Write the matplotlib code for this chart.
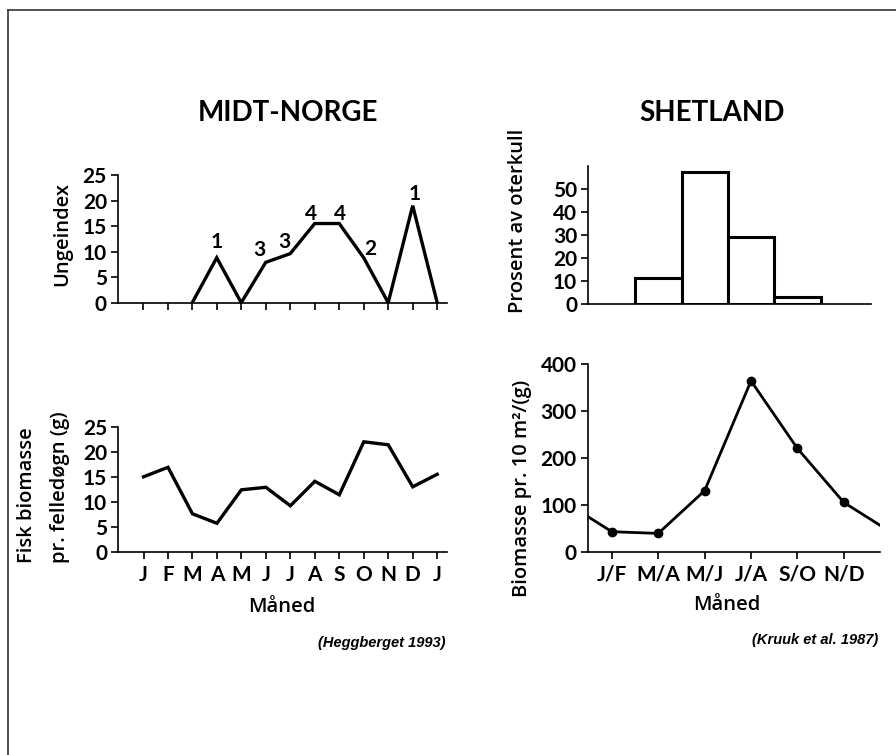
import matplotlib
matplotlib.use("Agg")
import matplotlib.pyplot as plt
from matplotlib.lines import Line2D

# ---- data ----
months = ['J', 'F', 'M', 'A', 'M', 'J', 'J', 'A', 'S', 'O', 'N', 'D', 'J']

# Ungeindex, starts in March (index 2)
unge_start = 2
unge_vals = [0, 8.8, 0, 7.9, 9.6, 15.5, 15.5, 8.8, 0, 19, 0]
unge_labels = {3: '1', 5: '3', 6: '3', 7: '4', 8: '4', 9: '2', 11: '1'}

fisk_vals = [15.1, 17.0, 7.7, 5.8, 12.5, 13.0, 9.3, 14.2, 11.5, 22.1, 21.5, 13.1, 15.6]

periods = ['J/F', 'M/A', 'M/J', 'J/A', 'S/O', 'N/D']
oterkull_pos = [1, 2, 3, 4]
oterkull_pct = [11.6, 57.5, 29.3, 3.0]

biomasse = [42.6, 39, 130, 364, 220, 105]

W, H = 896, 755
fig = plt.figure(figsize=(W / 100, H / 100), dpi=100)
plt.rcParams['font.family'] = ['Lato', 'DejaVu Sans']

def px_axes(l, r, b, t):
    return fig.add_axes([l / W, 1 - b / H, (r - l) / W, (b - t) / H])

def style(ax):
    for s in ['top', 'right']:
        ax.spines[s].set_visible(False)
    for s in ['left', 'bottom']:
        ax.spines[s].set_linewidth(1.2)
    ax.tick_params(axis='both', width=1.2, length=5, pad=3)

tick_font = dict(fontsize=15, fontweight='bold')

# ---- MIDT-NORGE top: Ungeindex ----
ax1 = px_axes(118, 447, 302.7, 175)
x_unge = list(range(unge_start, unge_start + len(unge_vals)))
ax1.plot(x_unge, unge_vals, color='black', lw=2.4, solid_joinstyle='miter')
ax1.set_xlim(-1.03, 12.4)
ax1.set_ylim(0, 25)
ax1.set_xticks(range(len(months)))
ax1.set_xticklabels([])
ax1.set_yticks([0, 5, 10, 15, 20, 25])
ax1.set_yticklabels(['0', '5', '10', '15', '20', '25'], **tick_font)
offsets = {3: (0, 16), 5: (-6, 12), 6: (-6, 12), 7: (-4, 10), 8: (1, 10),
           9: (7, 9), 11: (2, 12)}
for i, txt in unge_labels.items():
    ax1.annotate(txt, (i, unge_vals[i - unge_start]), xytext=offsets[i],
                 textcoords='offset pixels', ha='center', va='center', **tick_font)
style(ax1)

# ---- MIDT-NORGE bottom: fisk biomasse ----
ax2 = px_axes(118.3, 447, 552.3, 427.3)
ax2.plot(range(len(fisk_vals)), fisk_vals, color='black', lw=2.4, solid_joinstyle='miter')
ax2.set_xlim(-1.03, 12.4)
ax2.set_ylim(0, 25)
ax2.set_xticks(range(len(months)))
ax2.set_xticklabels(months, **tick_font)
ax2.set_yticks([0, 5, 10, 15, 20, 25])
ax2.set_yticklabels(['0', '5', '10', '15', '20', '25'], **tick_font)
style(ax2)
ax2.tick_params(axis='x', pad=4)

# ---- SHETLAND top: oterkull ----
ax3 = px_axes(588.3, 871, 304.3, 166)
ax3.bar(oterkull_pos, oterkull_pct, width=1.0, color='white', edgecolor='black', lw=2.2)
ax3.set_xlim(-0.52, 5.59)
ax3.set_ylim(0, 60)
ax3.set_xticks([])
ax3.set_yticks([0, 10, 20, 30, 40, 50])
ax3.set_yticklabels(['0', '10', '20', '30', '40', '50'], **tick_font)
style(ax3)

# ---- SHETLAND bottom: biomasse (cycle wraps round the year) ----
ax4 = px_axes(587.7, 880, 551.7, 364)
xs = list(range(len(biomasse)))
wrap_x = [-1] + xs + [len(biomasse)]
wrap_y = [biomasse[-1]] + biomasse + [biomasse[0]]
ax4.plot(wrap_x, wrap_y, color='black', lw=2.0)
ax4.plot(xs, biomasse, 'o', color='black', ms=6)
ax4.set_xlim(-0.52, 5.78)
ax4.set_ylim(0, 400)
ax4.set_xticks(xs)
ax4.set_xticklabels(periods, **tick_font)
ax4.set_yticks([0, 100, 200, 300, 400])
ax4.set_yticklabels(['0', '100', '200', '300', '400'], **tick_font)
style(ax4)
ax4.tick_params(axis='x', pad=4)

# ---- texts ----
def ftext(x, y, s, **kw):
    fig.text(x / W, 1 - y / H, s, **kw)

ftext(288, 121, 'MIDT-NORGE', ha='center', va='baseline', fontsize=20, fontweight='bold')
ftext(712, 121, 'SHETLAND', ha='center', va='baseline', fontsize=20, fontweight='bold')

lab = dict(fontsize=14.5, fontweight=600, rotation=90, family=['Open Sans', 'DejaVu Sans'])
ftext(62, 234, 'Ungeindex', ha='center', va='center', **lab)
ftext(27, 563, 'Fisk biomasse', ha='center', va='bottom', **lab)
ftext(60, 563, 'pr. felledøgn (g)', ha='center', va='bottom', **lab)
ftext(518, 313, 'Prosent av oterkull', ha='center', va='bottom', **lab)
ftext(522, 597, 'Biomasse pr. 10 m²/(g)', ha='center', va='bottom', **lab)

mlab = dict(fontsize=14.5, fontweight=600, family=['Open Sans', 'DejaVu Sans'])
ftext(282, 607, 'Måned', ha='center', va='center', **mlab)
ftext(727, 605, 'Måned', ha='center', va='center', **mlab)

cap = dict(ha='right', va='center', fontsize=10.5, style='italic', fontweight='bold',
           family='Liberation Sans')
ftext(445, 643, '(Heggberget 1993)', **cap)
ftext(878, 640, '(Kruuk et al. 1987)', **cap)

# frame lines (top and left only are visible)
fig.add_artist(Line2D([8 / W, 1], [1 - 10 / H, 1 - 10 / H], color='#333333', lw=1.2,
                      transform=fig.transFigure))
fig.add_artist(Line2D([8 / W, 8 / W], [1 - 10 / H, 0], color='#333333', lw=1.2,
                      transform=fig.transFigure))

fig.savefig('out.png', dpi=100)
